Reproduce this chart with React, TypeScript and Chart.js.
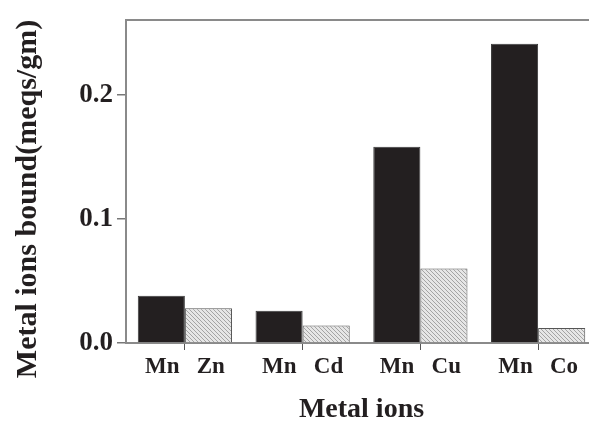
import React, { useEffect, useRef } from "react";
import { Chart, registerables } from "chart.js";

Chart.register(...registerables);

const categories = ["Mn   Zn", "Mn   Cd", "Mn   Cu", "Mn   Co"];
const mnValues = [0.038, 0.026, 0.158, 0.241];
const otherValues = [0.028, 0.014, 0.06, 0.012];
const yTickValues = [0, 0.1, 0.2];
const yTitle = "Metal ions bound(meqs/gm)";
const xTitle = "Metal ions";

const FONT = '"Liberation Serif", "Times New Roman", serif';
const TEXT = "#231f20";
const AXIS = "#8a8a8a";

function makeHatch(): CanvasPattern | string {
  const c = document.createElement("canvas");
  c.width = 4;
  c.height = 4;
  const g = c.getContext("2d");
  if (!g) return "#cccccc";
  g.fillStyle = "#e6e6e6";
  g.fillRect(0, 0, 4, 4);
  g.strokeStyle = "#a4a4a4";
  g.lineWidth = 1;
  g.beginPath();
  g.moveTo(0, 0);
  g.lineTo(4, 4);
  g.moveTo(-1, 3);
  g.lineTo(1, 5);
  g.moveTo(3, -1);
  g.lineTo(5, 1);
  g.stroke();
  const p = g.createPattern(c, "repeat");
  return p || "#cccccc";
}

const yTitlePlugin = {
  id: "yTitlePlugin",
  afterDraw(chart: any) {
    const ctx = chart.ctx;
    ctx.save();
    ctx.translate(28, 199);
    ctx.rotate(-Math.PI / 2);
    ctx.font = `bold 30px ${FONT}`;
    ctx.fillStyle = TEXT;
    ctx.textAlign = "center";
    ctx.textBaseline = "middle";
    ctx.fillText(yTitle, 0, 0);
    ctx.restore();
  },
};

export default function App() {
  const ref = useRef<HTMLCanvasElement | null>(null);

  useEffect(() => {
    if (!ref.current) return;
    const hatch = makeHatch();
    const chart = new Chart(ref.current, {
      type: "bar",
      data: {
        labels: categories,
        datasets: [
          {
            label: "Mn",
            data: mnValues,
            backgroundColor: "#231f20",
            borderColor: "#3a3a3a",
            borderWidth: 1,
            categoryPercentage: 0.8,
            barPercentage: 1.0,
          },
          {
            label: "Other",
            data: otherValues,
            backgroundColor: hatch as any,
            borderColor: "#555555",
            borderWidth: 1,
            categoryPercentage: 0.8,
            barPercentage: 1.0,
          },
        ],
      },
      options: {
        responsive: false,
        animation: false,
        layout: { padding: { top: 18, right: 3, bottom: 0, left: 0 } },
        plugins: {
          legend: { display: false },
          tooltip: { enabled: false },
        },
        scales: {
          x: {
            position: "bottom",
            grid: {
              offset: false,
              drawOnChartArea: false,
              drawTicks: true,
              tickLength: 7,
              color: "#555555",
              lineWidth: 1,
            },
            border: { display: true, color: AXIS, width: 2 },
            ticks: {
              color: TEXT,
              padding: 3,
              maxRotation: 0,
              autoSkip: false,
              font: { family: FONT, size: 23, weight: "bold" },
            },
            title: {
              display: true,
              text: xTitle,
              color: TEXT,
              padding: { top: 0, bottom: 0 },
              font: { family: FONT, size: 28, weight: "bold", lineHeight: 1 },
            },
            afterFit(scale: any) {
              scale.height = 81;
            },
          },
          x2: {
            type: "category",
            position: "top",
            labels: categories,
            grid: { display: false, drawTicks: false },
            border: { display: true, color: AXIS, width: 2 },
            ticks: { display: false },
            afterFit(scale: any) {
              scale.height = 0;
            },
          },
          y: {
            min: 0,
            max: 0.26,
            afterBuildTicks(scale: any) {
              scale.ticks = yTickValues.map((v) => ({ value: v }));
            },
            grid: {
              drawOnChartArea: false,
              drawTicks: true,
              tickLength: 9,
              color: "#777777",
              lineWidth: 1.5,
            },
            border: { display: true, color: AXIS, width: 2 },
            ticks: {
              color: TEXT,
              padding: 4,
              font: { family: FONT, size: 27, weight: "bold" },
              callback: (v: any) => Number(v).toFixed(1),
            },
            title: { display: false },
            afterFit(scale: any) {
              scale.width = 126;
            },
          },
        },
      } as any,
      plugins: [yTitlePlugin],
    });
    return () => chart.destroy();
  }, []);

  return (
    <div
      style={{
        position: "fixed",
        left: 0,
        top: 0,
        width: 589,
        height: 424,
        overflow: "hidden",
        background: "#ffffff",
      }}
    >
      <canvas ref={ref} width={600} height={424} style={{ display: "block" }} />
    </div>
  );
}
